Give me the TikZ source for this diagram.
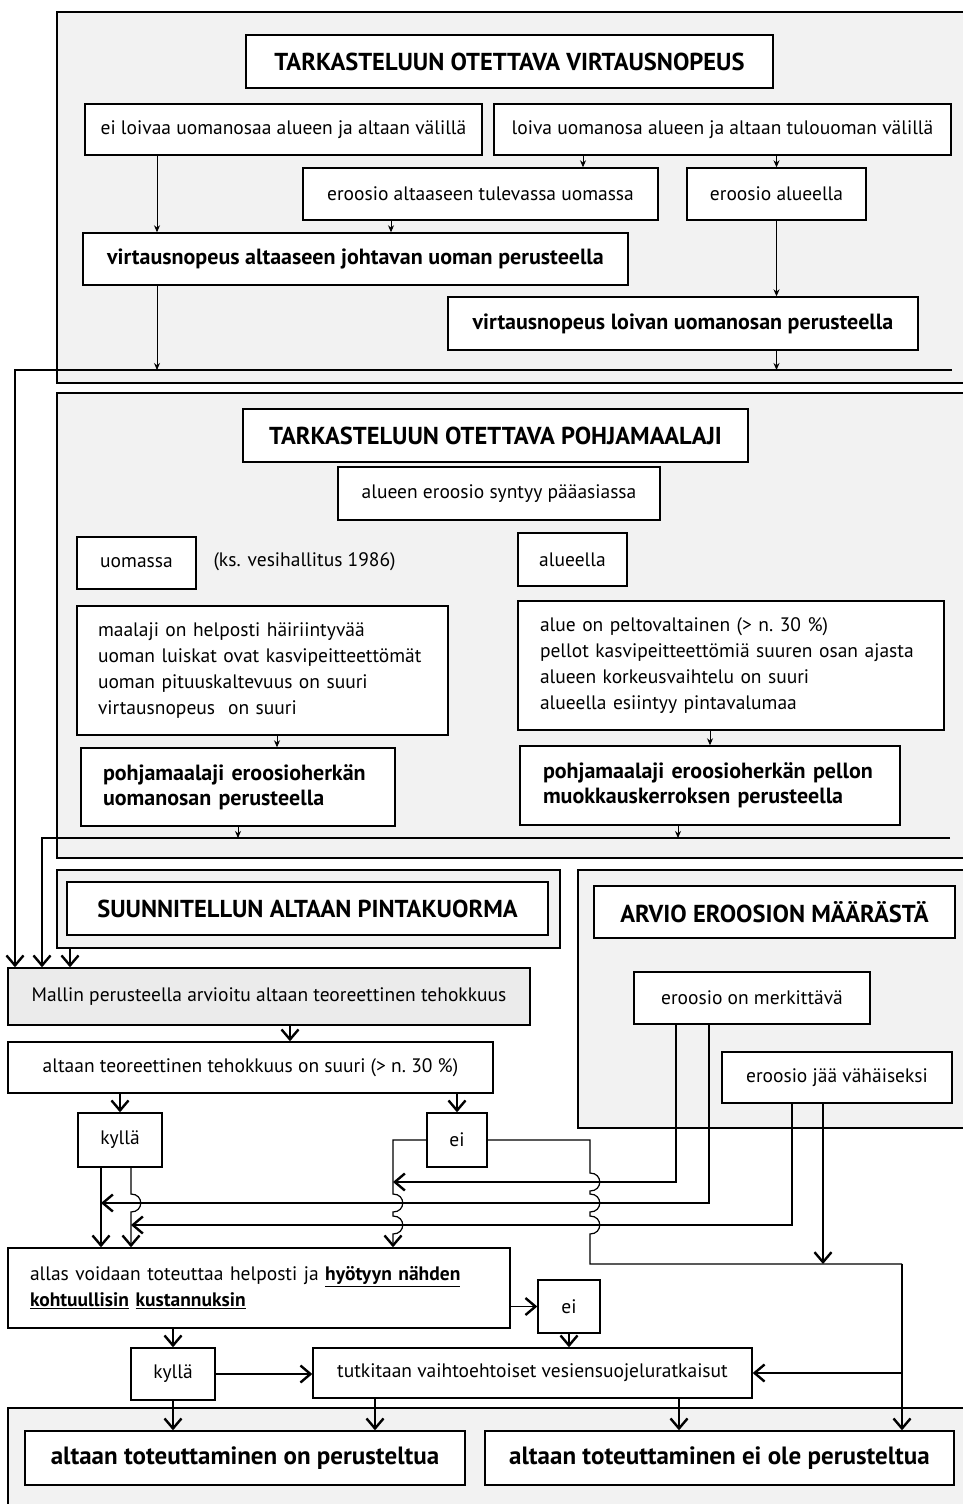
\documentclass[tikz,border=0pt]{standalone}
\usepackage{fontspec}
\setmainfont{PT Sans}
\usetikzlibrary{arrows.meta, positioning, calc}

\begin{document}
\begin{tikzpicture}[
    x=1pt, y=-1pt,
    box/.style={rectangle, draw, line width=1.4pt, fill=white, inner sep=0pt, align=center, font=\fontsize{19.5}{26}\selectfont},
    title/.style={box, font=\fontsize{24.5}{28}\selectfont\bfseries},
    boldbox/.style={box, font=\fontsize{22}{25}\selectfont\bfseries},
    listbox/.style={box, align=left, inner xsep=21pt},
    panel/.style={rectangle, draw, line width=1.4pt, fill=black!5, inner sep=0pt},
    arrow/.style={-{Stealth[length=7pt, width=6pt]}, line width=0.9pt},
    conn/.style={-{Straight Barb[length=10pt, width=17pt, line width=2.4pt]}, line width=1.2pt},
    line/.style={line width=1.2pt}
]
    \useasboundingbox (0,0) rectangle (963,1504);

    % panels
    \node[panel, minimum width=912pt, minimum height=371pt] (P1) at (513,197.5) {};
    \node[panel, minimum width=912pt, minimum height=465pt] (P2) at (513,625.5) {};
    \node[panel, minimum width=503pt, minimum height=78pt] (P3) at (308.5,909) {};
    \node[panel, minimum width=391pt, minimum height=258pt] (P4) at (773.5,999) {};
    \node[panel, minimum width=961pt, minimum height=110pt] (P5) at (488.5,1463) {};

    % virtausnopeus
    \node[title, minimum width=527pt, minimum height=53pt] (T1) at (509.5,61.5) {TARKASTELUUN OTETTAVA VIRTAUSNOPEUS};
    \node[box, minimum width=397pt, minimum height=51pt] (A) at (283.5,129.5) {ei loivaa uomanosaa alueen ja altaan välillä};
    \node[box, minimum width=457pt, minimum height=51pt] (B) at (722.5,129.5) {loiva uomanosa alueen ja altaan tulouoman välillä};
    \node[box, minimum width=355pt, minimum height=52pt] (C) at (480.5,194) {eroosio altaaseen tulevassa uomassa};
    \node[box, minimum width=179pt, minimum height=52pt] (D) at (776.5,194) {eroosio alueella};
    \node[boldbox, minimum width=545pt, minimum height=52pt] (E) at (355.5,259) {virtausnopeus altaaseen johtavan uoman perusteella};
    \node[boldbox, minimum width=470pt, minimum height=53pt] (F) at (683,323.5) {virtausnopeus loivan uomanosan perusteella};

    % pohjamaalaji
    \node[title, minimum width=505pt, minimum height=53pt] (T2) at (495.5,435.5) {TARKASTELUUN OTETTAVA POHJAMAALAJI};
    \node[box, minimum width=322pt, minimum height=53pt] (G) at (499,493.5) {alueen eroosio syntyy pääasiassa};
    \node[box, minimum width=119pt, minimum height=52pt] (H) at (136.5,563) {uomassa};
    \node[anchor=west, font=\fontsize{19.5}{26}\selectfont] (ks) at (210,562) {(ks. vesihallitus 1986)};
    \node[box, minimum width=109pt, minimum height=53pt] (I) at (572.5,559.5) {alueella};
    \node[listbox, text width=329pt, minimum height=129pt] (J) at (262.5,670.5) {maalaji on helposti häiriintyvää\\ uoman luiskat ovat kasvipeitteettömät\\ uoman pituuskaltevuus on suuri\\ virtausnopeus\ \ on suuri};
    \node[listbox, text width=382pt, inner xsep=22pt, minimum height=129pt] (K) at (731,665.5) {alue on peltovaltainen (> n.\ 30 \%)\\ pellot kasvipeitteettömiä suuren osan ajasta\\ alueen korkeusvaihtelu on suuri\\ alueella esiintyy pintavalumaa};
    \node[boldbox, align=left, inner xsep=22pt, text width=270pt, minimum height=78pt] (L) at (238,787) {pohjamaalaji eroosioherkän\\ uomanosan perusteella};
    \node[boldbox, align=left, inner xsep=23pt, text width=334pt, minimum height=79pt] (M) at (710,785.5) {pohjamaalaji eroosioherkän pellon\\ muokkauskerroksen perusteella};

    % pintakuorma ja eroosio
    \node[title, minimum width=481pt, minimum height=53pt] (T3) at (307.5,908.5) {SUUNNITELLUN ALTAAN PINTAKUORMA};
    \node[title, minimum width=361pt, minimum height=52pt] (T4) at (774.5,912) {ARVIO EROOSION MÄÄRÄSTÄ};
    \node[box, minimum width=236pt, minimum height=52pt] (N) at (752,998) {eroosio on merkittävä};
    \node[box, minimum width=230pt, minimum height=51pt] (O) at (837,1077.5) {eroosio jää vähäiseksi};

    % tehokkuus
    \node[box, fill=black!8, minimum width=522pt, minimum height=57pt] (Q0) at (269,996.5) {Mallin perusteella arvioitu altaan teoreettinen tehokkuus};
    \node[box, minimum width=485pt, minimum height=51pt] (Q) at (250.5,1067.5) {altaan teoreettinen tehokkuus on suuri (> n.\ 30 \%)};
    \node[box, minimum width=84pt, minimum height=54pt] (R) at (120,1140) {kyllä};
    \node[box, minimum width=60pt, minimum height=54pt] (S) at (457,1140) {ei};
    \node[listbox, inner xsep=22pt, text width=458pt, minimum height=80pt] (T) at (259,1288) {allas voidaan toteuttaa helposti ja \underline{\textbf{hyötyyn nähden}}\\ \underline{\textbf{kohtuullisin}} \underline{\textbf{kustannuksin}}};
    \node[box, minimum width=62pt, minimum height=53pt] (E2) at (569,1306.5) {ei};
    \node[box, minimum width=84pt, minimum height=52pt] (K2) at (173,1374) {kyllä};
    \node[box, minimum width=439pt, minimum height=50pt] (U) at (532.5,1373) {tutkitaan vaihtoehtoiset vesiensuojeluratkaisut};
    \node[box, font=\fontsize{25}{28}\selectfont\bfseries, minimum width=440pt, minimum height=54pt] (V) at (245,1458) {altaan toteuttaminen on perusteltua};
    \node[box, font=\fontsize{25}{28}\selectfont\bfseries, minimum width=469pt, minimum height=54pt] (W) at (719.5,1458) {altaan toteuttaminen ei ole perusteltua};

    % routing points
    \coordinate (xa) at (157,0);
    \coordinate (xb) at (583,0);
    \coordinate (xc) at (391,0);
    \coordinate (xj) at (277,0);
    \coordinate (xm) at (678,0);
    \coordinate (x3) at (70,0);
    \coordinate (xq) at (290,0);
    \coordinate (c1) at (15,370);
    \coordinate (c1e) at (952,370);
    \coordinate (c2) at (42,838);
    \coordinate (c2e) at (950,838);
    \coordinate (k1) at (101,0);
    \coordinate (k2) at (131,0);
    \coordinate (el) at (393,0);
    \coordinate (er) at (590,0);
    \coordinate (n1) at (676,0);
    \coordinate (n2) at (709,0);
    \coordinate (o1) at (792,0);
    \coordinate (o2) at (823,0);
    \coordinate (rr) at (902,0);
    \coordinate (h1) at (0,1182);
    \coordinate (h2) at (0,1203);
    \coordinate (h3) at (0,1225);
    \coordinate (h4) at (0,1264);
    \coordinate (uv) at (375,0);
    \coordinate (uw) at (679,0);

    \draw[arrow] (A.south -| xa) -- (E.north -| xa);
    \draw[arrow] (B.south -| xb) -- (C.north -| xb);
    \draw[arrow] (B.south -| D.north) -- (D.north);
    \draw[arrow] (C.south -| xc) -- (E.north -| xc);
    \draw[arrow] (D.south) -- (F.north -| D.south);
    \draw[arrow] (E.south -| xa) -- (c1 -| xa);
    \draw[arrow] (F.south -| D.south) -- (c1 -| D.south);
    \draw[arrow] (J.south -| xj) -- (L.north -| xj);
    \draw[arrow] (K.south -| M.north) -- (M.north);
    \draw[arrow] (L.south) -- (c2 -| L.south);
    \draw[arrow] (M.south -| xm) -- (c2 -| xm);

    \draw[conn] (c1e) -- (c1) -- (Q0.north -| c1);
    \draw[conn] (c2e) -- (c2) -- (Q0.north -| c2);
    \draw[conn] (P3.south -| x3) -- (Q0.north -| x3);
    \draw[conn] (Q0.south -| xq) -- (Q.north -| xq);
    \draw[conn] (Q.south -| R.north) -- (R.north);
    \draw[conn] (Q.south -| S.north) -- (S.north);

    % kyllä / ei
    \draw[conn] (R.south -| k1) -- (T.north -| k1);
    \draw[conn] (R.south -| k2) -- ($(k2 |- h2)+(0,-9)$) .. controls +(13,0) and +(13,0) .. ($(k2 |- h2)+(0,9)$) -- (T.north -| k2);
    \draw[conn] (S.west) -- (S.west -| el) -- ($(el |- h2)+(0,-9)$) .. controls +(13,0) and +(13,0) .. ($(el |- h2)+(0,9)$)
        -- ($(el |- h3)+(0,-9)$) .. controls +(13,0) and +(13,0) .. ($(el |- h3)+(0,9)$) -- (T.north -| el);
    \draw[line] (S.east) -- (S.east -| er) -- ($(er |- h1)+(0,-9)$) .. controls +(13,0) and +(13,0) .. ($(er |- h1)+(0,9)$)
        -- ($(er |- h2)+(0,-9)$) .. controls +(13,0) and +(13,0) .. ($(er |- h2)+(0,9)$)
        -- ($(er |- h3)+(0,-9)$) .. controls +(13,0) and +(13,0) .. ($(er |- h3)+(0,9)$) -- (er |- h4) -- (rr |- h4);
    \draw[conn] (rr |- h4) -- (W.north -| rr);
    \draw[conn] (rr |- U.east) -- (U.east);

    % eroosio
    \draw[conn] (N.south -| n1) -- (n1 |- h1) -- (el |- h1);
    \draw[conn] (N.south -| n2) -- (n2 |- h2) -- (k1 |- h2);
    \draw[conn] (O.south -| o1) -- (o1 |- h3) -- (k2 |- h3);
    \draw[conn] (O.south -| o2) -- (o2 |- h4);

    % loppu
    \draw[conn] (T.east |- E2.west) -- (E2.west);
    \draw[conn] (T.south -| K2.north) -- (K2.north);
    \draw[conn] (E2.south) -- (U.north -| E2.south);
    \draw[conn] (K2.east) -- (K2.east -| U.west);
    \draw[conn] (K2.south) -- (V.north -| K2.south);
    \draw[conn] (U.south -| uv) -- (V.north -| uv);
    \draw[conn] (U.south -| uw) -- (W.north -| uw);
\end{tikzpicture}
\end{document}
